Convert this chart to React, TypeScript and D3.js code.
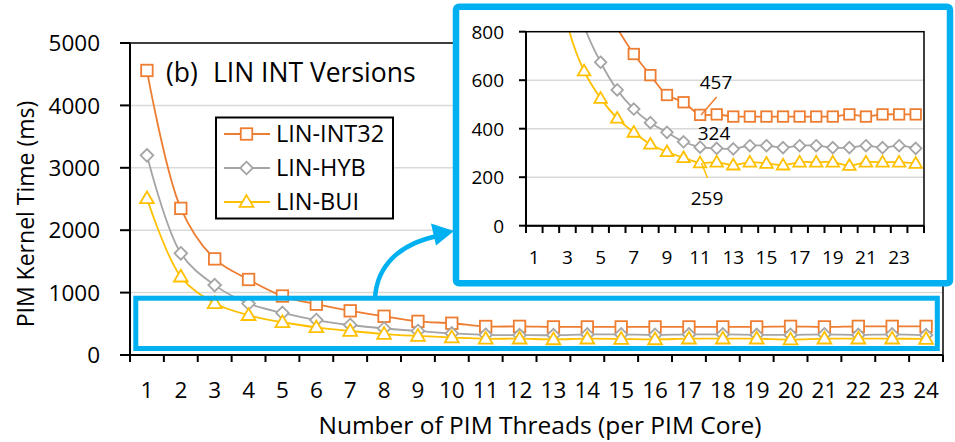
import React from 'react';
import * as d3 from 'd3';

const threads = ['1', '2', '3', '4', '5', '6', '7', '8', '9', '10', '11', '12', '13', '14', '15', '16', '17', '18', '19', '20', '21', '22', '23', '24'];
const linInt32 = [4560, 2350, 1540, 1210, 945, 815, 708, 621, 539, 509, 457, 459, 450, 450, 450, 450, 450, 450, 450, 459, 450, 459, 459, 459];
const linHyb = [3200, 1630, 1120, 825, 674, 560, 481, 425, 385, 346, 324, 319, 317, 330, 330, 322, 330, 330, 322, 322, 330, 322, 330, 319];
const linBui = [2510, 1255, 830, 638, 525, 443, 385, 336, 305, 280, 259, 262, 250, 262, 257, 250, 262, 262, 262, 248, 262, 262, 262, 257];
const mainTicks = [0, 1000, 2000, 3000, 4000, 5000];
const insetTicks = [0, 200, 400, 600, 800];
const insetXLabels = ['1', '3', '5', '7', '9', '11', '13', '15', '17', '19', '21', '23'];

const series = [
  { name: 'LIN-INT32', values: linInt32, color: '#ED7D31', shape: 'square' },
  { name: 'LIN-HYB', values: linHyb, color: '#A5A5A5', shape: 'diamond' },
  { name: 'LIN-BUI', values: linBui, color: '#FFC000', shape: 'triangle' },
];

const font = '"Open Sans", Lato, sans-serif';
const blue = '#00B0F0';

const Marker = ({ shape, x, y, color, s }) => {
  if (shape === 'square') {
    return <rect x={x - s / 2} y={y - s / 2} width={s} height={s} fill="#fff" stroke={color} strokeWidth={1.8} />;
  }
  if (shape === 'diamond') {
    const r = s * 0.55;
    return <path d={`M${x},${y - r}L${x + r},${y}L${x},${y + r}L${x - r},${y}Z`} fill="#fff" stroke={color} strokeWidth={1.8} />;
  }
  const r = s * 0.6;
  return <path d={`M${x},${y - r}L${x + r},${y + r * 0.7}L${x - r},${y + r * 0.7}Z`} fill="#fff" stroke={color} strokeWidth={1.8} />;
};

const App = () => {
  // main chart
  const x = d3.scaleBand().domain(threads).range([130, 943]);
  const y = d3.scaleLinear().domain([0, 5000]).range([355, 43]);
  const cx = (t) => x(t) + x.bandwidth() / 2;
  const line = d3.line().x((d, i) => cx(threads[i])).y((d) => y(d)).curve(d3.curveCatmullRom.alpha(0.5));

  // inset chart
  const xi = d3.scaleBand().domain(threads).range([526, 924]);
  const yi = d3.scaleLinear().domain([0, 800]).range([225.7, 31.7]);
  const cxi = (t) => xi(t) + xi.bandwidth() / 2;
  const linei = d3.line().x((d, i) => cxi(threads[i])).y((d) => yi(d)).curve(d3.curveCatmullRom.alpha(0.5));

  const bounds = [...threads.map((t) => x(t)), 943];
  const boundsi = [...threads.map((t) => xi(t)), 924];

  return (
    <svg width={955} height={442} style={{ position: 'absolute', left: 0, top: 0, background: '#fff' }} fontFamily={font}>
      <defs>
        <clipPath id="insetClip">
          <rect x={526} y={31.7} width={398} height={194} />
        </clipPath>
      </defs>

      {/* main grid */}
      {mainTicks.slice(1, -1).map((t) => (
        <line key={t} x1={130} x2={943} y1={y(t)} y2={y(t)} stroke="#D9D9D9" strokeWidth={1.5} />
      ))}
      <rect x={130} y={43} width={813} height={312} fill="none" stroke="#000" strokeWidth={1.5} />
      <line x1={130} x2={130} y1={43} y2={355} stroke="#000" strokeWidth={2} />
      <line x1={130} x2={943} y1={355} y2={355} stroke="#000" strokeWidth={2} />
      {mainTicks.map((t) => (
        <g key={t}>
          <line x1={120} x2={130} y1={y(t)} y2={y(t)} stroke="#000" strokeWidth={2} />
          <text x={100} y={y(t)} dy="0.36em" textAnchor="end" fontSize={22.5} fill="#000">{t}</text>
        </g>
      ))}
      {bounds.map((b, i) => (
        <line key={i} x1={b} x2={b} y1={355} y2={362} stroke="#000" strokeWidth={2} />
      ))}
      {threads.map((t) => (
        <text key={t} x={cx(t)} y={390} dy="0.36em" textAnchor="middle" fontSize={22.5} fill="#000">{t}</text>
      ))}
      <text x={540} y={434} textAnchor="middle" fontSize={24.5} fill="#000">Number of PIM Threads (per PIM Core)</text>
      <text transform="translate(34,214) rotate(-90)" textAnchor="middle" fontSize={23} fill="#000">PIM Kernel Time (ms)</text>

      {series.map((s) => (
        <g key={s.name}>
          <path d={line(s.values)} fill="none" stroke={s.color} strokeWidth={1.8} />
          {s.values.map((v, i) => (
            <Marker key={i} shape={s.shape} x={cx(threads[i])} y={y(v)} color={s.color} s={11.5} />
          ))}
        </g>
      ))}

      <text x={166} y={82} fontSize={26.5} fill="#000">(b)</text>
      <text x={213} y={82} fontSize={26.5} fill="#000">LIN INT Versions</text>

      {/* legend */}
      <rect x={216} y={117.5} width={177} height={101} fill="#fff" stroke="#000" strokeWidth={2} />
      {series.map((s, i) => {
        const ly = 134 + i * 34;
        return (
          <g key={s.name}>
            <line x1={224} x2={270} y1={ly} y2={ly} stroke={s.color} strokeWidth={1.8} />
            <Marker shape={s.shape} x={246.5} y={ly} color={s.color} s={11.5} />
            <text x={276} y={ly} dy="0.36em" fontSize={23.5} fill="#000">{s.name}</text>
          </g>
        );
      })}

      {/* highlight box and arrow */}
      <rect x={135.8} y={298.2} width={801.5} height={50.3} fill="none" stroke={blue} strokeWidth={5} />
      <path d="M375,298 C377,265 400,244 437,236" fill="none" stroke={blue} strokeWidth={4.5} />
      <path d="M454,231 L431,223.5 L436,245.5 Z" fill={blue} />

      {/* inset */}
      <rect x={456} y={6.7} width={494} height={276.6} rx={3} fill="#fff" stroke={blue} strokeWidth={6.5} />
      {insetTicks.slice(1, -1).map((t) => (
        <line key={t} x1={526} x2={924} y1={yi(t)} y2={yi(t)} stroke="#D9D9D9" strokeWidth={1.5} />
      ))}
      <g clipPath="url(#insetClip)">
        {series.map((s) => (
          <g key={s.name}>
            <path d={linei(s.values)} fill="none" stroke={s.color} strokeWidth={1.8} />
            {s.values.map((v, i) => (v <= 800 ? (
              <Marker key={i} shape={s.shape} x={cxi(threads[i])} y={yi(v)} color={s.color} s={10.5} />
            ) : null))}
          </g>
        ))}
      </g>
      <rect x={526} y={31.7} width={398} height={194} fill="none" stroke="#000" strokeWidth={1.5} />
      <line x1={526} x2={526} y1={31.7} y2={225.7} stroke="#000" strokeWidth={2} />
      <line x1={526} x2={924} y1={225.7} y2={225.7} stroke="#000" strokeWidth={2} />
      {insetTicks.map((t) => (
        <g key={t}>
          <line x1={519} x2={526} y1={yi(t)} y2={yi(t)} stroke="#000" strokeWidth={2} />
          <text x={504} y={yi(t)} dy="0.36em" textAnchor="end" fontSize={19} fill="#000">{t}</text>
        </g>
      ))}
      {boundsi.map((b, i) => (
        <line key={i} x1={b} x2={b} y1={225.7} y2={233} stroke="#000" strokeWidth={2} />
      ))}
      {insetXLabels.map((t) => (
        <text key={t} x={cxi(t)} y={257} dy="0.36em" textAnchor="middle" fontSize={19} fill="#000">{t}</text>
      ))}

      {/* data labels */}
      <line x1={716.7} y1={97} x2={701} y2={115} stroke="#ED7D31" strokeWidth={1.5} />
      <text x={716} y={82} dy="0.36em" textAnchor="middle" fontSize={19} fill="#000">457</text>
      <text x={714} y={133} dy="0.36em" textAnchor="middle" fontSize={19} fill="#000">324</text>
      <line x1={701.5} y1={163} x2={707.5} y2={178} stroke="#FFC000" strokeWidth={1.5} />
      <text x={707} y={198} dy="0.36em" textAnchor="middle" fontSize={19} fill="#000">259</text>
    </svg>
  );
};

export default App;
